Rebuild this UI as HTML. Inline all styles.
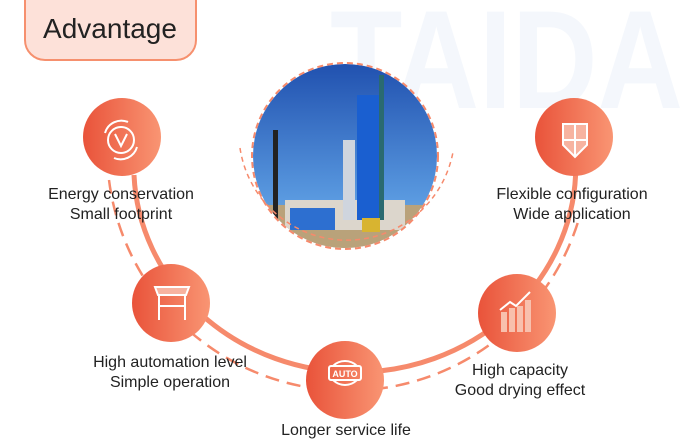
<!DOCTYPE html>
<html><head><meta charset="utf-8"><style>
body{margin:0;width:683px;height:442px;background:#fff;overflow:hidden;position:relative;font-family:"Liberation Sans",sans-serif;}
.t{position:absolute;color:#222;font-size:16px;text-align:center;line-height:20px;white-space:nowrap;transform:translateX(-50%);}
</style></head><body>
<svg width="683" height="442" style="position:absolute;left:0;top:0">
<defs>
<linearGradient id="g" x1="0" x2="1" y1="0" y2="0"><stop offset="0" stop-color="#e9533a"/><stop offset="1" stop-color="#f99573"/></linearGradient>
<linearGradient id="sky" x1="0" x2="0" y1="0" y2="1"><stop offset="0" stop-color="#1f4fae"/><stop offset="0.7" stop-color="#5a9ae0"/><stop offset="1" stop-color="#c8b38a"/></linearGradient>
<clipPath id="pc"><circle cx="345" cy="156" r="92"/></clipPath>
</defs>
<text x="330" y="108" font-family="Liberation Sans" font-weight="bold" font-size="140" fill="#f4f7fc" textLength="353" lengthAdjust="spacingAndGlyphs">TAIDA</text>
<path d="M25 0 V40 A20 20 0 0 0 45 60 H176 A20 20 0 0 0 196 40 V0" fill="#fde1d9" stroke="#f6906e" stroke-width="2"/>
<text x="110" y="38" font-family="Liberation Sans" font-size="28" fill="#222" text-anchor="middle">Advantage</text>
<path d="M134 175 A221 206 0 0 0 575.6 175" fill="none" stroke="#f68a6c" stroke-width="5"/>
<path d="M109 180 A241 241 0 0 0 578.6 220" fill="none" stroke="#f68a6c" stroke-width="2.5" stroke-dasharray="14 8"/>
<g clip-path="url(#pc)">
<rect x="250" y="60" width="200" height="200" fill="url(#sky)"/>
<rect x="250" y="205" width="200" height="60" fill="#b9a27a"/>
<rect x="285" y="200" width="120" height="30" fill="#dcd6cc"/>
<rect x="290" y="208" width="45" height="22" fill="#2d6fd0"/>
<rect x="273" y="130" width="5" height="90" fill="#222"/>
<rect x="343" y="140" width="12" height="80" fill="#cfd5de"/>
<rect x="357" y="95" width="22" height="125" fill="#1a5fd0"/>
<rect x="379" y="75" width="5" height="145" fill="#2a6a70"/>
<rect x="362" y="218" width="18" height="14" fill="#d8b430"/>
</g>
<circle cx="345" cy="156" r="93" fill="none" stroke="#f68a6c" stroke-width="2" stroke-dasharray="6 4"/>
<path d="M240 148 A108 108 0 0 0 453 152" fill="none" stroke="#f68a6c" stroke-width="1.5" stroke-dasharray="5 4"/>
<g fill="url(#g)">
<circle cx="122" cy="137" r="39"/><circle cx="574" cy="137" r="39"/>
<circle cx="171" cy="303" r="39"/><circle cx="345" cy="380" r="39"/>
<circle cx="517" cy="313" r="39"/>
</g>
<g fill="none" stroke="#fff" stroke-width="2">
<circle cx="121" cy="140" r="13"/><path d="M115 134 L121 146 L127 134"/>
<path d="M105 133 A17 17 0 0 1 128 122"/><path d="M137 147 A17 17 0 0 1 114 158"/>
<path d="M563 124 H587 V145 L575 157 L563 145 Z" fill="#f7b3a0"/><path d="M575 124 V157 M563 140 H587"/>
<path d="M155 287 H189 L186 295 H158 Z" fill="#f7b3a0"/><path d="M159 295 V320 M185 295 V320 M159 306 H185"/>
<rect x="329" y="366" width="32" height="14" rx="2"/>
<path d="M333 366 A17 17 0 0 1 357 366 M333 380 A17 17 0 0 0 357 380"/>
<path d="M500 310 L510 302 L516 306 L530 292"/>
</g>
<text x="345" y="377" font-family="Liberation Sans" font-size="9" fill="#fff" text-anchor="middle" font-weight="bold">AUTO</text>
<g fill="#f8c0ad"><rect x="501" y="312" width="6" height="20"/><rect x="509" y="308" width="6" height="24"/><rect x="517" y="306" width="6" height="26"/><rect x="525" y="300" width="6" height="32"/></g>
</svg>
<div class="t" style="left:121px;top:185px">Energy conservation<br>Small footprint</div>
<div class="t" style="left:572px;top:185px">Flexible configuration<br>Wide application</div>
<div class="t" style="left:170px;top:353px">High automation level<br>Simple operation</div>
<div class="t" style="left:520px;top:361px">High capacity<br>Good drying effect</div>
<div class="t" style="left:346px;top:421px">Longer service life</div>
</body></html>
